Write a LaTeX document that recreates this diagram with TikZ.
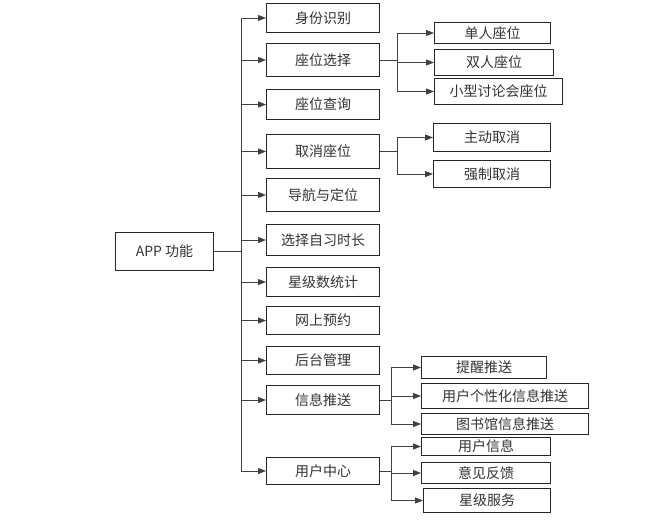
\documentclass[tikz,border=0pt]{standalone}
\usepackage{fontspec}
\setmainfont{Noto Sans CJK SC}
\usepackage{tikz}
\usetikzlibrary{
    arrows.meta,
    positioning,
    calc
}
\usepackage{xcolor}
\definecolor{linegray}{rgb}{0.25, 0.25, 0.25}
\tikzstyle{mainbox} = [
    rectangle,
    draw=black!85,
    line width=1pt,
    anchor=north west,
    minimum width=113pt,
    inner sep=1pt,
    text=black!80,
    font=\fontsize{14}{16}\selectfont
]
\tikzstyle{subbox} = [
    mainbox
]
\tikzstyle{line} = [
    line width=1pt,
    draw=linegray
]
\tikzstyle{arrow} = [
    -{Triangle[length=8pt,width=6pt]},
    line width=1pt,
    draw=linegray,
    fill=linegray
]

\begin{document}
\begin{tikzpicture}[x=1pt, y=-1pt]
        \useasboundingbox (0,0) rectangle (651,522);

        \node[mainbox, minimum width=98pt, minimum height=38pt] (app) at (115,232) {APP 功能};

        % first level
        \node[mainbox, minimum height=29pt] (n1) at (266,3) {身份识别};
        \node[mainbox, minimum height=33pt] (n2) at (266,43) {座位选择};
        \node[mainbox, minimum height=30pt] (n3) at (266,89) {座位查询};
        \node[mainbox, minimum height=34pt] (n4) at (266,134) {取消座位};
        \node[mainbox, minimum height=33pt] (n5) at (266,178) {导航与定位};
        \node[mainbox, minimum height=31pt] (n6) at (266,224) {选择自习时长};
        \node[mainbox, minimum height=29pt] (n7) at (266,267) {星级数统计};
        \node[mainbox, minimum height=28pt] (n8) at (266,306) {网上预约};
        \node[mainbox, minimum height=28pt] (n9) at (266,346) {后台管理};
        \node[mainbox, minimum height=29pt] (n10) at (266,385) {信息推送};
        \node[mainbox, minimum height=27pt] (n11) at (266,457) {用户中心};

        % second level
        \node[subbox, minimum width=116pt, minimum height=21pt] (s1) at (434,22) {单人座位};
        \node[subbox, minimum width=119pt, minimum height=26pt] (s2) at (434,49) {双人座位};
        \node[subbox, minimum width=128pt, minimum height=26pt] (s3) at (434,78) {小型讨论会座位};
        \node[subbox, minimum width=117pt, minimum height=28pt] (s4) at (433,123) {主动取消};
        \node[subbox, minimum width=117pt, minimum height=27pt] (s5) at (433,160) {强制取消};
        \node[subbox, minimum width=125pt, minimum height=22pt] (s6) at (421,356) {提醒推送};
        \node[subbox, minimum width=167pt, minimum height=25pt] (s7) at (421,383) {用户个性化信息推送};
        \node[subbox, minimum width=167pt, minimum height=21pt] (s8) at (421,413) {图书馆信息推送};
        \node[subbox, minimum width=129pt, minimum height=18pt] (s9) at (421,437) {用户信息};
        \node[subbox, minimum width=129pt, minimum height=21pt] (s10) at (421,462) {意见反馈};
        \node[subbox, minimum width=127pt, minimum height=24pt] (s11) at (423,488) {星级服务};

        % branch lines
        \coordinate (trunk) at (241,0);
        \coordinate (seat) at (397,0);
        \coordinate (push) at (391,0);

        \draw[line] (app.east) -- (app.east -| trunk);
        \draw[line] (n1.west -| trunk) -- (n11.west -| trunk);
        \foreach \n in {n1,n2,n3,n4,n5,n6,n7,n8,n9,n10,n11}
            \draw[arrow] (\n.west -| trunk) -- (\n.west);

        \draw[line] (n2.east) -- (n2.east -| seat);
        \draw[line] (s1.west -| seat) -- (s3.west -| seat);
        \foreach \n in {s1,s2,s3}
            \draw[arrow] (\n.west -| seat) -- (\n.west);

        \draw[line] (n4.east) -- (n4.east -| seat);
        \draw[line] (s4.west -| seat) -- (s5.west -| seat);
        \foreach \n in {s4,s5}
            \draw[arrow] (\n.west -| seat) -- (\n.west);

        \draw[line] (n10.east) -- (n10.east -| push);
        \draw[line] (s6.west -| push) -- (s8.west -| push);
        \foreach \n in {s6,s7,s8}
            \draw[arrow] (\n.west -| push) -- (\n.west);

        \draw[line] (n11.east) -- (n11.east -| push);
        \draw[line] (s9.west -| push) -- (s11.west -| push);
        \foreach \n in {s9,s10,s11}
            \draw[arrow] (\n.west -| push) -- (\n.west);
    \end{tikzpicture}
\end{document}
